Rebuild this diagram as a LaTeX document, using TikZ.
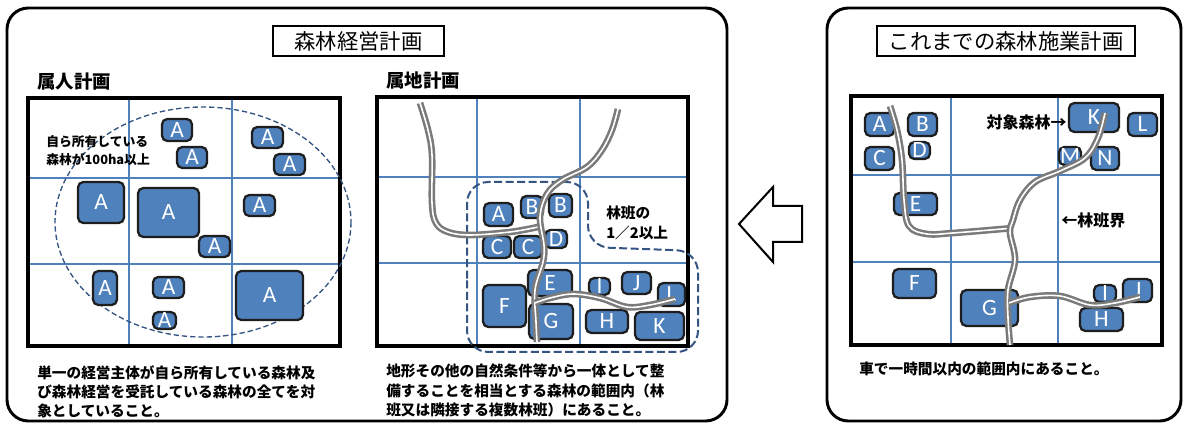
\documentclass[tikz,border=0pt]{standalone}
\usepackage{fontspec}
\setmainfont{Carlito}
\newfontfamily\jp{Noto Sans CJK JP}
\definecolor{blkfill}{HTML}{4F81BD}
\definecolor{blkline}{HTML}{1E1E1E}
\definecolor{gridc}{HTML}{4F81BD}
\definecolor{dashc}{RGB}{52,84,130}
\definecolor{roadc}{HTML}{7A7A7A}
\tikzset{
  panel/.style={draw=black,line width=2.2pt,rounded corners=16pt},
  frame/.style={draw=black,line width=2.4pt},
  gridline/.style={draw=gridc,line width=1.2pt},
  blk/.style={draw=blkline,fill=blkfill,line width=1.7pt,rounded corners=4pt,inner sep=0pt,outer sep=0pt,text=white,font=\fontsize{17.5}{17.5}\selectfont},
  road/.style={draw=roadc,double=white,double distance=1.2pt,line width=1.9pt},
  dashreg/.style={draw=dashc,line width=1.5pt,dash pattern=on 6pt off 2.6pt},
  dashell/.style={draw=dashc,line width=1.0pt,dash pattern=on 4pt off 2.2pt},
  titlebox/.style={draw=black,line width=1.2pt,minimum height=22.5pt,inner sep=0pt,font=\jp\fontsize{16}{16}\selectfont},
  head/.style={anchor=west,inner sep=0pt,font=\jp\bfseries\fontsize{13.8}{14}\selectfont},
  bodytext/.style={anchor=north west,inner sep=0pt,align=left,font=\jp\bfseries\fontsize{11}{14.3}\selectfont},
  note/.style={inner sep=0pt,align=left,font=\jp\bfseries\fontsize{11}{15}\selectfont},
  bigarrow/.style={draw=black,fill=white,line width=1.5pt,line join=miter}
}
\newcommand\blk[6]{\node[blk,minimum width={(#4-#2)*0.75pt},minimum height={(#5-#3)*0.75pt}] (#1) at ({(#2+#4)/2},{(#3+#5)/2}) {#6};}
\begin{document}
\begin{tikzpicture}[x=0.75pt,y=-0.75pt]
\useasboundingbox (0,0) rectangle (1184,423);
\fill[white] (0,0) rectangle (1184,423);
% ---------- outer panels ----------
\draw[panel] (7,8) rectangle (727,421);
\draw[panel] (827,8) rectangle (1181,421);
\node[titlebox,minimum width=128pt] (t1) at (358.5,41) {森林経営計画};
\node[titlebox,minimum width=193.5pt] (t2) at (1006,41) {これまでの森林施業計画};
\node[head] (h1) at (37,82) {属人計画};
\node[head] (h2) at (386,81) {属地計画};
% ---------- left grid ----------
\draw[gridline] (129,98) -- (129,346);
\draw[gridline] (232,98) -- (232,346);
\draw[gridline] (28,178) -- (340,178);
\draw[gridline] (28,264) -- (340,264);
\draw[frame] (28,98) rectangle (340,346);
\draw[dashell] (203,222) ellipse [x radius=148, y radius=115];
\blk{la1}{162}{119}{192}{141}{A}
\blk{la2}{177}{147}{207}{168}{A}
\blk{la3}{252}{127}{283}{148}{A}
\blk{la4}{274}{154}{305}{175}{A}
\blk{la5}{78}{182}{124}{223}{A}
\blk{la6}{138}{188}{199}{237}{A}
\blk{la7}{244}{195}{275}{216}{A}
\blk{la8}{199}{236}{230}{257}{A}
\blk{la9}{93}{271}{117}{305}{A}
\blk{la10}{153}{277}{184}{298}{A}
\blk{la11}{153}{312}{176}{329}{A}
\blk{la12}{236}{271}{303}{320}{A}
\node[note,anchor=west,font=\jp\bfseries\fontsize{9.6}{13.5}\selectfont] (n1) at (46,151) {自ら所有している\\森林が100ha以上};
% ---------- middle grid ----------
\draw[gridline] (477,97) -- (477,346);
\draw[gridline] (580,97) -- (580,346);
\draw[gridline] (377,177) -- (688,177);
\draw[gridline] (377,263) -- (688,263);
\draw[frame] (377,97) rectangle (688,346);
\draw[dashreg,rounded corners=16pt] (467,300) -- (467,182) -- (588,182) -- (588,247) -- (698,251) -- (698,352) -- (467,352) -- cycle;
\blk{ma}{484}{203}{513}{226}{A}
\blk{mb1}{521}{196}{543}{218}{B}
\blk{mb2}{549}{194}{572}{217}{B}
\blk{mc1}{483}{236}{511}{258}{C}
\blk{mc2}{514}{236}{542}{258}{C}
\blk{md}{545}{230}{567}{248}{D}
\blk{me}{528}{270}{572}{296}{E}
\blk{mf}{483}{285}{526}{327}{F}
\blk{mg}{529}{304}{573}{339}{G}
\blk{mi}{589}{278}{610}{295}{I}
\blk{mj}{622}{272}{651}{294}{J}
\blk{ml}{658}{283}{685}{306}{L}
\blk{mh}{586}{310}{628}{333}{H}
\blk{mk}{635}{312}{684}{340}{K}
\draw[road] plot[smooth,tension=0.6] coordinates {(420,103) (428,130) (432,155) (432,203) (436,223) (448,232) (470,235) (510,232) (538,227)};
\draw[road] plot[smooth,tension=0.6] coordinates {(618,109) (612,130) (602,150) (587,167) (562,180) (547,194) (540,217) (544,245) (543,262) (535,290) (536,322) (537,342)};
\draw[road] plot[smooth,tension=0.6] coordinates {(535,303) (550,298) (573,294) (600,298) (627,307) (650,305) (675,299)};
\node[note,anchor=west] (n2) at (606,223) {林班の\\1／2以上};
% ---------- right grid ----------
\draw[gridline] (951,96) -- (951,345);
\draw[gridline] (1058,96) -- (1058,345);
\draw[gridline] (851,175) -- (1162,175);
\draw[gridline] (851,262) -- (1162,262);
\draw[frame] (851,96) rectangle (1162,345);
\blk{ra}{865}{113}{894}{136}{A}
\blk{rb}{908}{113}{937}{136}{B}
\blk{rc}{865}{147}{894}{170}{C}
\blk{rd}{909}{142}{930}{159}{D}
\blk{re}{894}{193}{937}{215}{E}
\blk{rf}{893}{269}{936}{298}{F}
\blk{rg}{961}{290}{1018}{326}{G}
\blk{rh}{1080}{308}{1123}{331}{H}
\blk{ri}{1094}{285}{1116}{302}{I}
\blk{rj}{1123}{279}{1152}{302}{J}
\blk{rk}{1069}{103}{1119}{132}{K}
\blk{rl}{1128}{113}{1157}{136}{L}
\blk{rm}{1059}{147}{1081}{165}{M}
\blk{rn}{1091}{147}{1119}{170}{N}
\draw[road] plot[smooth,tension=0.6] coordinates {(890,106) (897,130) (902,160) (904,200) (909,226) (927,234) (953,233) (1002,229) (1012,228)};
\draw[road] plot[smooth,tension=0.6] coordinates {(1105,113) (1098,138) (1085,158) (1060,171) (1035,182) (1020,200) (1013,220) (1010,233) (1015,260) (1008,290) (1008,318) (1010,345)};
\draw[road] plot[smooth,tension=0.6] coordinates {(1009,303) (1030,297) (1060,296) (1090,305) (1115,303) (1140,297)};
\node[note,anchor=east,font=\jp\bfseries\fontsize{12}{14}\selectfont] (n3) at (1067,122) {対象森林→};
\node[note,anchor=west,font=\jp\bfseries\fontsize{12}{14}\selectfont] (n4) at (1061,220) {←林班界};
% ---------- arrow ----------
\draw[bigarrow] (739,224) -- (773,187) -- (773,206) -- (802,206) -- (802,242) -- (773,242) -- (773,262) -- cycle;
% ---------- bottom texts ----------
\node[bodytext] (b1) at (37,365) {単一の経営主体が自ら所有している森林及\\び森林経営を受託している森林の全てを対\\象としていること。};
\node[bodytext] (b2) at (386,364) {地形その他の自然条件等から一体として整\\備することを相当とする森林の範囲内（林\\班又は隣接する複数林班）にあること。};
\node[bodytext] (b3) at (859,362) {車で一時間以内の範囲内にあること。};
\end{tikzpicture}
\end{document}
